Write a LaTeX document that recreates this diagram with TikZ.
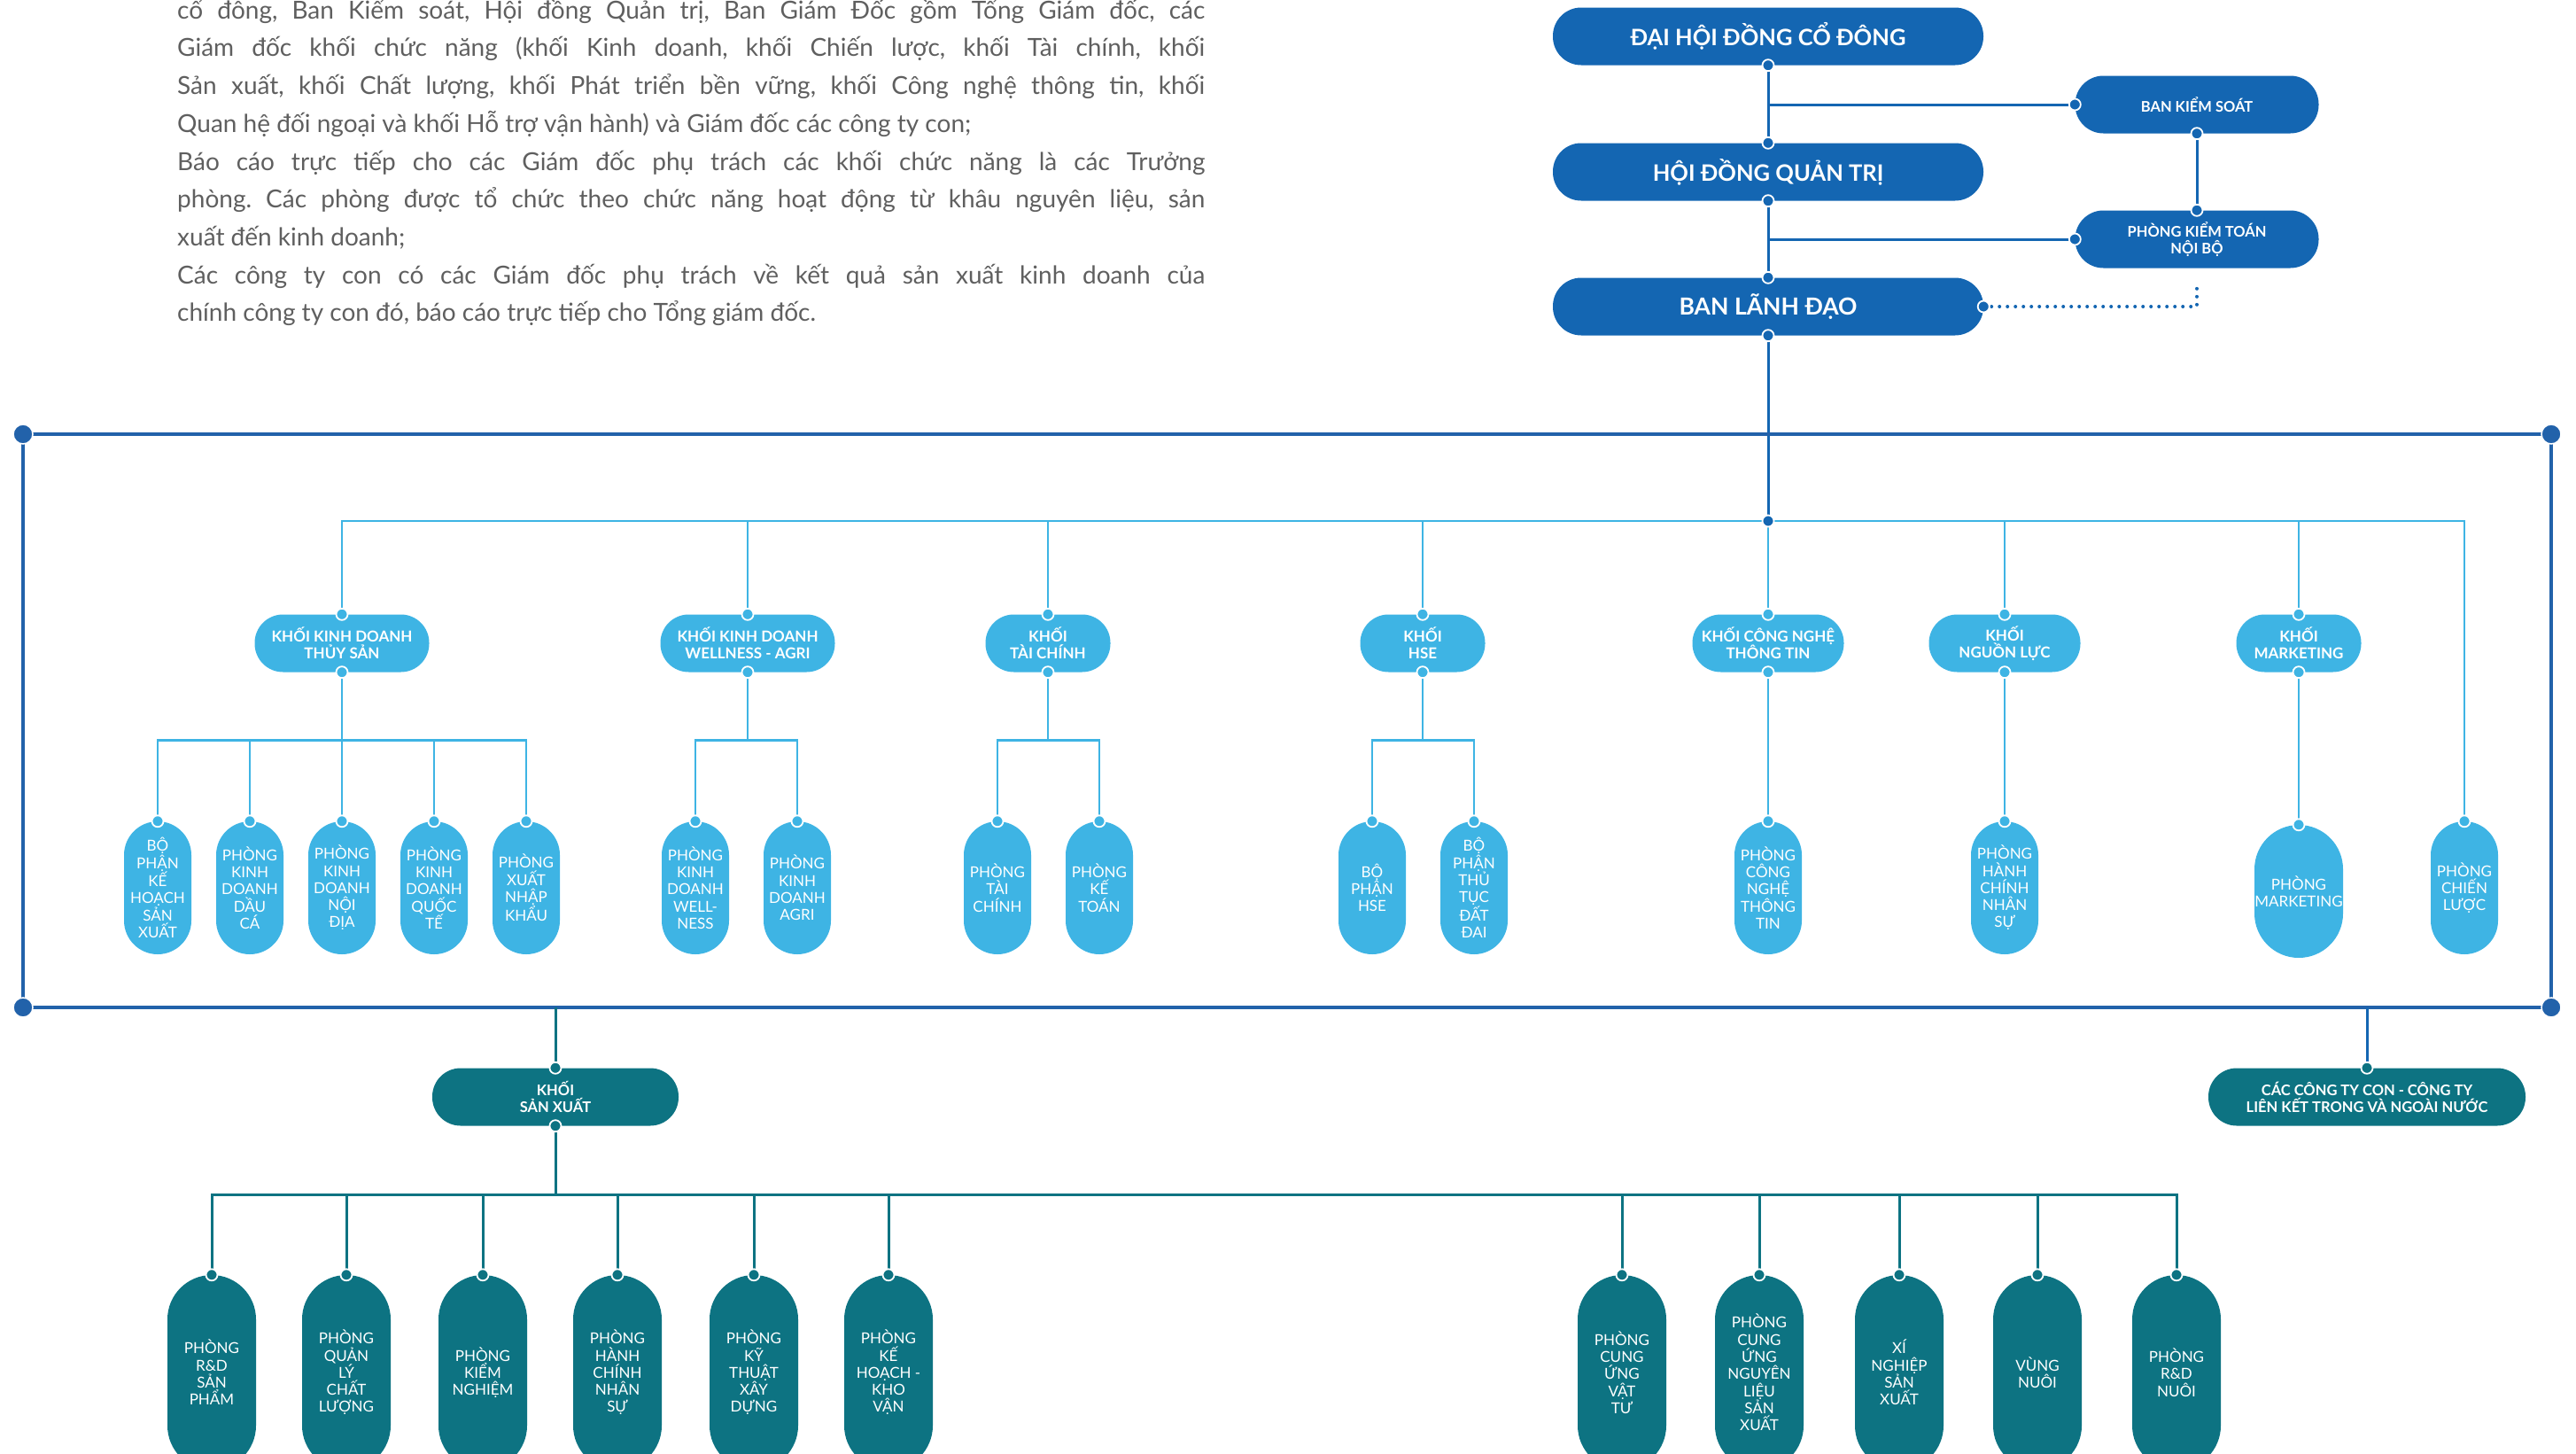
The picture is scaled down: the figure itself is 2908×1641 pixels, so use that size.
\documentclass[tikz,border=0pt]{standalone}
\usepackage{fontspec}
\setmainfont{Lato}
\usetikzlibrary{calc}
\definecolor{vhdark}{RGB}{20,102,178}
\definecolor{vhframe}{RGB}{34,98,170}
\definecolor{vhcyan}{RGB}{62,180,228}
\definecolor{vhteal}{RGB}{13,115,130}
\definecolor{vhgray}{RGB}{95,95,95}
\newcommand{\jdot}[2]{\filldraw[fill=#1,draw=white,line width=1.8pt] (#2) circle (6.5pt);}
\tikzset{
    topbox/.style={fill=vhdark, text=white, font=\fontsize{25.5}{28}\selectfont\bfseries,
        minimum width=486pt, minimum height=65pt, rounded corners=32pt, inner sep=0pt, align=center},
    sidebox/.style={topbox, minimum width=275pt, font=\fontsize{16.5}{18.5}\selectfont\bfseries},
    khoibox/.style={fill=vhcyan, text=white, font=\fontsize{17}{19}\selectfont\bfseries,
        minimum height=65pt, rounded corners=32pt, inner sep=0pt, align=center},
    phongbox/.style={fill=vhcyan, text=white, font=\fontsize{17}{19.3}\selectfont,
        minimum width=76pt, minimum height=150pt, rounded corners=38pt, inner sep=0pt, align=center},
    sxbox/.style={khoibox, fill=vhteal, font=\fontsize{16.5}{19}\selectfont\bfseries},
    sxphong/.style={phongbox, fill=vhteal, minimum width=100pt, minimum height=220pt, rounded corners=50pt},
    darkline/.style={draw=vhdark, line width=3pt},
    cyanline/.style={draw=vhcyan, line width=2.5pt},
    tealline/.style={draw=vhteal, line width=3pt},
    frameline/.style={draw=vhframe, line width=4pt}
}

\begin{document}
\begin{tikzpicture}[x=1pt,y=-1pt]
    \useasboundingbox (0,0) rectangle (2908,1641);

    % intro text
    \node[anchor=north west, inner sep=0pt, text width=1160pt, align=justify,
        text=vhgray, font=\fontsize{28}{42.7}\selectfont\frenchspacing] (intro) at (200,-2) {
        cổ đông, Ban Kiểm soát, Hội đồng Quản trị, Ban Giám Đốc gồm Tổng Giám đốc, các\linebreak
        Giám đốc khối chức năng (khối Kinh doanh, khối Chiến lược, khối Tài chính, khối\linebreak
        Sản xuất, khối Chất lượng, khối Phát triển bền vững, khối Công nghệ thông tin, khối\linebreak
        Quan hệ đối ngoại và khối Hỗ trợ vận hành) và Giám đốc các công ty con;\\
        Báo cáo trực tiếp cho các Giám đốc phụ trách các khối chức năng là các Trưởng\linebreak
        phòng. Các phòng được tổ chức theo chức năng hoạt động từ khâu nguyên liệu, sản\linebreak
        xuất đến kinh doanh;\\
        Các công ty con có các Giám đốc phụ trách về kết quả sản xuất kinh doanh của\linebreak
        chính công ty con đó, báo cáo trực tiếp cho Tổng giám đốc.
    };

    % top management
    \node[topbox] (dhdcd) at (1996,41) {ĐẠI HỘI ĐỒNG CỔ ĐÔNG};
    \node[topbox] (hdqt) at (1996,194) {HỘI ĐỒNG QUẢN TRỊ};
    \node[topbox, font=\fontsize{26.5}{28}\selectfont\bfseries] (bld) at (1996,346) {BAN LÃNH ĐẠO};
    \node[sidebox] (bks) at (2480,118) {BAN KIỂM SOÁT};
    \node[sidebox] (pktnb) at (2480,270) {PHÒNG KIỂM TOÁN\\NỘI BỘ};
    \coordinate (pkend) at (2480,321);
    \coordinate (hub) at (1996,588);

    \draw[darkline] (dhdcd.south) -- (hdqt.north);
    \draw[darkline] (hdqt.south) -- (bld.north);
    \draw[darkline] (dhdcd.south |- bks.west) -- (bks.west);
    \draw[darkline] (hdqt.south |- pktnb.west) -- (pktnb.west);
    \draw[darkline] (bks.south) -- (pktnb.north);
    \draw[vhdark, line width=4pt, line cap=round, dash pattern=on 0pt off 9pt]
        (bld.east) -- (bld.east -| pkend) -- (pkend);
    \draw[darkline] (bld.south) -- (hub);

    % frame
    \coordinate (ftl) at (26,490);
    \coordinate (ftr) at (2880,490);
    \coordinate (fbr) at (2880,1137);
    \coordinate (fbl) at (26,1137);
    \coordinate (fsx) at (627,1137);
    \coordinate (fcty) at (2672,1137);
    \draw[frameline] (ftl) rectangle (fbr);
    \foreach \c in {ftl,ftr,fbr,fbl}
        \filldraw[fill=vhframe, draw=white, line width=1.5pt] (\c) circle (11pt);

    % khoi
    \node[khoibox, minimum width=197pt] (kts) at (386,726) {KHỐI KINH DOANH\\THỦY SẢN};
    \node[khoibox, minimum width=197pt] (kwa) at (844,726) {KHỐI KINH DOANH\\WELLNESS - AGRI};
    \node[khoibox, minimum width=141pt] (ktc) at (1183,726) {KHỐI\\TÀI CHÍNH};
    \node[khoibox, minimum width=141pt] (khse) at (1606,726) {KHỐI\\HSE};
    \node[khoibox, minimum width=171pt] (kcntt) at (1996,726) {KHỐI CÔNG NGHỆ\\THÔNG TIN};
    \node[khoibox, minimum width=171pt] (knl) at (2263,726) {KHỐI\\NGUỒN LỰC};
    \node[khoibox, minimum width=141pt] (kmkt) at (2595,726) {KHỐI\\MARKETING};

    % phong
    \foreach \nm/\xx/\txt in {
        pts1/178/{BỘ\\PHẬN\\KẾ\\HOẠCH\\SẢN\\XUẤT},
        pts2/282/{PHÒNG\\KINH\\DOANH\\DẦU\\CÁ},
        pts3/386/{PHÒNG\\KINH\\DOANH\\NỘI\\ĐỊA},
        pts4/490/{PHÒNG\\KINH\\DOANH\\QUỐC\\TẾ},
        pts5/594/{PHÒNG\\XUẤT\\NHẬP\\KHẨU},
        pwa1/785/{PHÒNG\\KINH\\DOANH\\WELL-\\NESS},
        pwa2/900/{PHÒNG\\KINH\\DOANH\\AGRI},
        ptc1/1126/{PHÒNG\\TÀI\\CHÍNH},
        ptc2/1241/{PHÒNG\\KẾ\\TOÁN},
        phse1/1549/{BỘ\\PHẬN\\HSE},
        phse2/1664/{BỘ\\PHẬN\\THỦ\\TỤC\\ĐẤT\\ĐAI},
        pcntt/1996/{PHÒNG\\CÔNG\\NGHỆ\\THÔNG\\TIN},
        pnl/2263/{PHÒNG\\HÀNH\\CHÍNH\\NHÂN\\SỰ},
        pcl/2782/{PHÒNG\\CHIẾN\\LƯỢC}}
        \node[phongbox] (\nm) at (\xx,1002) {\txt};
    \node[phongbox, minimum width=100pt, rounded corners=50pt] (pmkt) at (2595,1006) {PHÒNG\\MARKETING};

    \foreach \k in {kts,kwa,ktc,khse,kcntt,knl,kmkt,pcl}
        \draw[cyanline] (hub) -| (\k.north);
    \foreach \p in {pts1,pts2,pts3,pts4,pts5}
        \draw[cyanline] (kts.south) -- ++(0,77) -| (\p.north);
    \foreach \p in {pwa1,pwa2}
        \draw[cyanline] (kwa.south) -- ++(0,77) -| (\p.north);
    \foreach \p in {ptc1,ptc2}
        \draw[cyanline] (ktc.south) -- ++(0,77) -| (\p.north);
    \foreach \p in {phse1,phse2}
        \draw[cyanline] (khse.south) -- ++(0,77) -| (\p.north);
    \draw[cyanline] (kcntt.south) -- (pcntt.north);
    \draw[cyanline] (knl.south) -- (pnl.north);
    \draw[cyanline] (kmkt.south) -- (pmkt.north);

    % khoi san xuat
    \node[sxbox, minimum width=278pt] (ksx) at (627,1238) {KHỐI\\SẢN XUẤT};
    \node[sxbox, minimum width=358pt] (cty) at (2672,1238) {CÁC CÔNG TY CON - CÔNG TY\\LIÊN KẾT TRONG VÀ NGOÀI NƯỚC};
    \draw[tealline] (fsx) -- (ksx.north);
    \draw[darkline] (fcty) -- (cty.north);

    \foreach \nm/\xx/\txt in {
        sx1/239/{PHÒNG\\R\&D\\SẢN\\PHẨM},
        sx2/391/{PHÒNG\\QUẢN\\LÝ\\CHẤT\\LƯỢNG},
        sx3/545/{PHÒNG\\KIỂM\\NGHIỆM},
        sx4/697/{PHÒNG\\HÀNH\\CHÍNH\\NHÂN\\SỰ},
        sx5/851/{PHÒNG\\KỸ\\THUẬT\\XÂY\\DỰNG},
        sx6/1003/{PHÒNG\\KẾ\\HOẠCH -\\KHO\\VẬN},
        sx7/1831/{PHÒNG\\CUNG\\ỨNG\\VẬT\\TƯ},
        sx8/1986/{PHÒNG\\CUNG\\ỨNG\\NGUYÊN\\LIỆU\\SẢN\\XUẤT},
        sx9/2144/{XÍ\\NGHIỆP\\SẢN\\XUẤT},
        sx10/2300/{VÙNG\\NUÔI},
        sx11/2457/{PHÒNG\\R\&D\\NUÔI}}
        \node[sxphong] (\nm) at (\xx,1549) {\txt};
    \foreach \s in {sx1,sx2,sx3,sx4,sx5,sx6,sx7,sx8,sx9,sx10,sx11}
        \draw[tealline] (ksx.south) -- ++(0,78) -| (\s.north);

    % joints
    \foreach \a in {dhdcd.south,hdqt.north,hdqt.south,bld.north,bld.south,bld.east,
        bks.west,bks.south,pktnb.north,pktnb.west,hub}
        \jdot{vhdark}{\a};
    \foreach \k in {kts,kwa,ktc,khse,kcntt,knl,kmkt}
        {\jdot{vhcyan}{\k.north} \jdot{vhcyan}{\k.south}}
    \foreach \p in {pts1,pts2,pts3,pts4,pts5,pwa1,pwa2,ptc1,ptc2,phse1,phse2,pcntt,pnl,pmkt,pcl}
        \jdot{vhcyan}{\p.north};
    \foreach \a in {ksx.north,ksx.south,cty.north,sx1.north,sx2.north,sx3.north,sx4.north,
        sx5.north,sx6.north,sx7.north,sx8.north,sx9.north,sx10.north,sx11.north}
        \jdot{vhteal}{\a};
\end{tikzpicture}
\end{document}
